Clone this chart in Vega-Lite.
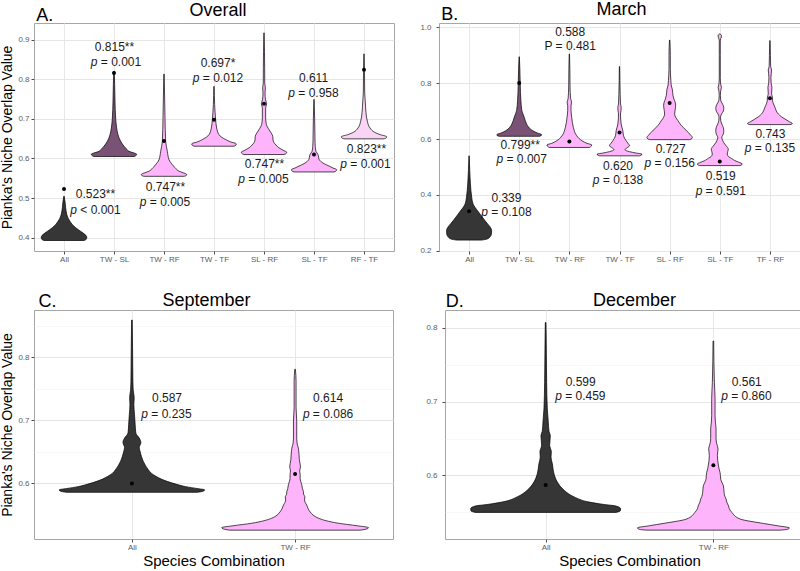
{
  "$schema": "https://vega.github.io/schema/vega-lite/v6.json",
  "padding": {"left": 0, "top": 0, "right": 0, "bottom": 0},
  "autosize": {"type": "pad"},
  "config": {
    "font": "Liberation Sans",
    "view": {"stroke": "#a6a6a6", "strokeWidth": 1},
    "axis": {"labelFont": "Liberation Sans", "titleFont": "Liberation Sans", "labelFontSize": 8, "labelColor": "#5c5c5c", "tickColor": "#4d4d4d", "tickSize": 3, "domain": false, "gridColor": "#e8e8e8", "titleFontWeight": "normal", "titleColor": "#000000", "labelFlush": false, "labelOverlap": false},
    "title": {"font": "Liberation Sans", "fontSize": 18, "fontWeight": "normal", "color": "#000000", "anchor": "middle", "frame": "group"},
    "text": {"font": "Liberation Sans"}
  },
  "datasets": {
    "vA": [
      {"cat":"All","v":0.393,"w":0.40},{"cat":"All","v":0.396,"w":0.445},{"cat":"All","v":0.400,"w":0.455},{"cat":"All","v":0.404,"w":0.45},{"cat":"All","v":0.408,"w":0.42},{"cat":"All","v":0.413,"w":0.37},{"cat":"All","v":0.419,"w":0.30},{"cat":"All","v":0.425,"w":0.235},{"cat":"All","v":0.433,"w":0.17},{"cat":"All","v":0.442,"w":0.115},{"cat":"All","v":0.450,"w":0.08},{"cat":"All","v":0.459,"w":0.055},{"cat":"All","v":0.476,"w":0.033},{"cat":"All","v":0.492,"w":0.02},{"cat":"All","v":0.505,"w":0.003},
      {"cat":"TW - SL","v":0.605,"w":0.40},{"cat":"TW - SL","v":0.608,"w":0.445},{"cat":"TW - SL","v":0.611,"w":0.453},{"cat":"TW - SL","v":0.614,"w":0.40},{"cat":"TW - SL","v":0.618,"w":0.30},{"cat":"TW - SL","v":0.624,"w":0.25},{"cat":"TW - SL","v":0.631,"w":0.20},{"cat":"TW - SL","v":0.644,"w":0.13},{"cat":"TW - SL","v":0.660,"w":0.08},{"cat":"TW - SL","v":0.677,"w":0.053},{"cat":"TW - SL","v":0.702,"w":0.033},{"cat":"TW - SL","v":0.745,"w":0.02},{"cat":"TW - SL","v":0.787,"w":0.013},{"cat":"TW - SL","v":0.820,"w":0.004},
      {"cat":"TW - RF","v":0.555,"w":0.40},{"cat":"TW - RF","v":0.557,"w":0.445},{"cat":"TW - RF","v":0.560,"w":0.453},{"cat":"TW - RF","v":0.564,"w":0.38},{"cat":"TW - RF","v":0.568,"w":0.30},{"cat":"TW - RF","v":0.574,"w":0.24},{"cat":"TW - RF","v":0.581,"w":0.19},{"cat":"TW - RF","v":0.597,"w":0.10},{"cat":"TW - RF","v":0.618,"w":0.067},{"cat":"TW - RF","v":0.644,"w":0.033},{"cat":"TW - RF","v":0.703,"w":0.02},{"cat":"TW - RF","v":0.750,"w":0.013},{"cat":"TW - RF","v":0.813,"w":0.004},
      {"cat":"TW - TF","v":0.631,"w":0.40},{"cat":"TW - TF","v":0.634,"w":0.44},{"cat":"TW - TF","v":0.637,"w":0.445},{"cat":"TW - TF","v":0.642,"w":0.33},{"cat":"TW - TF","v":0.648,"w":0.23},{"cat":"TW - TF","v":0.654,"w":0.15},{"cat":"TW - TF","v":0.660,"w":0.10},{"cat":"TW - TF","v":0.677,"w":0.053},{"cat":"TW - TF","v":0.698,"w":0.033},{"cat":"TW - TF","v":0.736,"w":0.013},{"cat":"TW - TF","v":0.782,"w":0.004},
      {"cat":"SL - RF","v":0.610,"w":0.40},{"cat":"SL - RF","v":0.613,"w":0.445},{"cat":"SL - RF","v":0.616,"w":0.453},{"cat":"SL - RF","v":0.621,"w":0.38},{"cat":"SL - RF","v":0.627,"w":0.30},{"cat":"SL - RF","v":0.634,"w":0.24},{"cat":"SL - RF","v":0.640,"w":0.20},{"cat":"SL - RF","v":0.647,"w":0.18},{"cat":"SL - RF","v":0.656,"w":0.175},{"cat":"SL - RF","v":0.665,"w":0.14},{"cat":"SL - RF","v":0.673,"w":0.10},{"cat":"SL - RF","v":0.686,"w":0.047},{"cat":"SL - RF","v":0.703,"w":0.033},{"cat":"SL - RF","v":0.728,"w":0.033},{"cat":"SL - RF","v":0.738,"w":0.053},{"cat":"SL - RF","v":0.748,"w":0.03},{"cat":"SL - RF","v":0.765,"w":0.02},{"cat":"SL - RF","v":0.778,"w":0.027},{"cat":"SL - RF","v":0.790,"w":0.015},{"cat":"SL - RF","v":0.829,"w":0.013},{"cat":"SL - RF","v":0.870,"w":0.01},{"cat":"SL - RF","v":0.917,"w":0.003},
      {"cat":"SL - TF","v":0.566,"w":0.40},{"cat":"SL - TF","v":0.569,"w":0.445},{"cat":"SL - TF","v":0.572,"w":0.453},{"cat":"SL - TF","v":0.576,"w":0.38},{"cat":"SL - TF","v":0.581,"w":0.30},{"cat":"SL - TF","v":0.587,"w":0.20},{"cat":"SL - TF","v":0.593,"w":0.133},{"cat":"SL - TF","v":0.598,"w":0.10},{"cat":"SL - TF","v":0.603,"w":0.093},{"cat":"SL - TF","v":0.610,"w":0.08},{"cat":"SL - TF","v":0.618,"w":0.04},{"cat":"SL - TF","v":0.630,"w":0.025},{"cat":"SL - TF","v":0.644,"w":0.02},{"cat":"SL - TF","v":0.700,"w":0.013},{"cat":"SL - TF","v":0.749,"w":0.003},
      {"cat":"RF - TF","v":0.6496,"w":0.40},{"cat":"RF - TF","v":0.652,"w":0.445},{"cat":"RF - TF","v":0.655,"w":0.453},{"cat":"RF - TF","v":0.660,"w":0.33},{"cat":"RF - TF","v":0.665,"w":0.23},{"cat":"RF - TF","v":0.677,"w":0.12},{"cat":"RF - TF","v":0.694,"w":0.067},{"cat":"RF - TF","v":0.715,"w":0.04},{"cat":"RF - TF","v":0.740,"w":0.027},{"cat":"RF - TF","v":0.770,"w":0.013},{"cat":"RF - TF","v":0.820,"w":0.01},{"cat":"RF - TF","v":0.864,"w":0.003}
    ],
    "dA": [
      {"cat":"All","v":0.523},{"cat":"TW - SL","v":0.816},{"cat":"TW - RF","v":0.644},{"cat":"TW - TF","v":0.698},{"cat":"SL - RF","v":0.738},{"cat":"SL - TF","v":0.610},{"cat":"RF - TF","v":0.824}
    ],
    "tA": [
      {"x":1.63,"y":0.511,"t":"0.523**","k":"v"},{"x":1.63,"y":0.471,"t":"< 0.001","k":"p"},
      {"x":2.01,"y":0.881,"t":"0.815**","k":"v"},{"x":2.04,"y":0.844,"t":"= 0.001","k":"p"},
      {"x":3.03,"y":0.528,"t":"0.747**","k":"v"},{"x":3.02,"y":0.491,"t":"= 0.005","k":"p"},
      {"x":4.08,"y":0.841,"t":"0.697*","k":"v"},{"x":4.08,"y":0.803,"t":"= 0.012","k":"p"},
      {"x":5.01,"y":0.587,"t":"0.747**","k":"v"},{"x":4.99,"y":0.549,"t":"= 0.005","k":"p"},
      {"x":5.99,"y":0.802,"t":"0.611","k":"v"},{"x":5.99,"y":0.766,"t":"= 0.958","k":"p"},
      {"x":7.05,"y":0.624,"t":"0.823**","k":"v"},{"x":7.03,"y":0.587,"t":"= 0.001","k":"p"},
      {"x":0.446,"y":0.947,"t":"A.","k":"L"}
    ],
    "vB": [
      {"cat":"All","v":0.238,"w":0.25},{"cat":"All","v":0.242,"w":0.36},{"cat":"All","v":0.250,"w":0.42},{"cat":"All","v":0.260,"w":0.445},{"cat":"All","v":0.272,"w":0.45},{"cat":"All","v":0.285,"w":0.42},{"cat":"All","v":0.296,"w":0.37},{"cat":"All","v":0.307,"w":0.32},{"cat":"All","v":0.319,"w":0.27},{"cat":"All","v":0.331,"w":0.22},{"cat":"All","v":0.343,"w":0.17},{"cat":"All","v":0.355,"w":0.12},{"cat":"All","v":0.367,"w":0.08},{"cat":"All","v":0.391,"w":0.053},{"cat":"All","v":0.439,"w":0.027},{"cat":"All","v":0.487,"w":0.013},{"cat":"All","v":0.540,"w":0.003},
      {"cat":"TW - SL","v":0.610,"w":0.40},{"cat":"TW - SL","v":0.613,"w":0.44},{"cat":"TW - SL","v":0.616,"w":0.447},{"cat":"TW - SL","v":0.622,"w":0.36},{"cat":"TW - SL","v":0.630,"w":0.27},{"cat":"TW - SL","v":0.642,"w":0.19},{"cat":"TW - SL","v":0.654,"w":0.147},{"cat":"TW - SL","v":0.678,"w":0.10},{"cat":"TW - SL","v":0.702,"w":0.053},{"cat":"TW - SL","v":0.738,"w":0.033},{"cat":"TW - SL","v":0.797,"w":0.02},{"cat":"TW - SL","v":0.850,"w":0.013},{"cat":"TW - SL","v":0.895,"w":0.003},
      {"cat":"TW - RF","v":0.570,"w":0.40},{"cat":"TW - RF","v":0.575,"w":0.44},{"cat":"TW - RF","v":0.579,"w":0.447},{"cat":"TW - RF","v":0.585,"w":0.35},{"cat":"TW - RF","v":0.592,"w":0.27},{"cat":"TW - RF","v":0.612,"w":0.147},{"cat":"TW - RF","v":0.642,"w":0.08},{"cat":"TW - RF","v":0.678,"w":0.047},{"cat":"TW - RF","v":0.702,"w":0.033},{"cat":"TW - RF","v":0.720,"w":0.033},{"cat":"TW - RF","v":0.732,"w":0.045},{"cat":"TW - RF","v":0.745,"w":0.025},{"cat":"TW - RF","v":0.790,"w":0.013},{"cat":"TW - RF","v":0.850,"w":0.01},{"cat":"TW - RF","v":0.905,"w":0.003},
      {"cat":"TW - TF","v":0.540,"w":0.40},{"cat":"TW - TF","v":0.543,"w":0.44},{"cat":"TW - TF","v":0.546,"w":0.447},{"cat":"TW - TF","v":0.550,"w":0.33},{"cat":"TW - TF","v":0.555,"w":0.20},{"cat":"TW - TF","v":0.562,"w":0.11},{"cat":"TW - TF","v":0.569,"w":0.15},{"cat":"TW - TF","v":0.576,"w":0.20},{"cat":"TW - TF","v":0.585,"w":0.17},{"cat":"TW - TF","v":0.594,"w":0.133},{"cat":"TW - TF","v":0.612,"w":0.08},{"cat":"TW - TF","v":0.630,"w":0.067},{"cat":"TW - TF","v":0.654,"w":0.033},{"cat":"TW - TF","v":0.690,"w":0.02},{"cat":"TW - TF","v":0.702,"w":0.03},{"cat":"TW - TF","v":0.714,"w":0.033},{"cat":"TW - TF","v":0.726,"w":0.02},{"cat":"TW - TF","v":0.760,"w":0.013},{"cat":"TW - TF","v":0.860,"w":0.003},
      {"cat":"SL - RF","v":0.598,"w":0.40},{"cat":"SL - RF","v":0.602,"w":0.445},{"cat":"SL - RF","v":0.606,"w":0.453},{"cat":"SL - RF","v":0.614,"w":0.42},{"cat":"SL - RF","v":0.624,"w":0.37},{"cat":"SL - RF","v":0.642,"w":0.27},{"cat":"SL - RF","v":0.654,"w":0.21},{"cat":"SL - RF","v":0.666,"w":0.167},{"cat":"SL - RF","v":0.678,"w":0.12},{"cat":"SL - RF","v":0.690,"w":0.10},{"cat":"SL - RF","v":0.705,"w":0.11},{"cat":"SL - RF","v":0.720,"w":0.12},{"cat":"SL - RF","v":0.732,"w":0.11},{"cat":"SL - RF","v":0.744,"w":0.085},{"cat":"SL - RF","v":0.756,"w":0.067},{"cat":"SL - RF","v":0.768,"w":0.06},{"cat":"SL - RF","v":0.779,"w":0.053},{"cat":"SL - RF","v":0.794,"w":0.03},{"cat":"SL - RF","v":0.809,"w":0.025},{"cat":"SL - RF","v":0.850,"w":0.013},{"cat":"SL - RF","v":0.900,"w":0.013},{"cat":"SL - RF","v":0.955,"w":0.003},
      {"cat":"SL - TF","v":0.505,"w":0.40},{"cat":"SL - TF","v":0.508,"w":0.44},{"cat":"SL - TF","v":0.511,"w":0.447},{"cat":"SL - TF","v":0.517,"w":0.38},{"cat":"SL - TF","v":0.523,"w":0.30},{"cat":"SL - TF","v":0.530,"w":0.24},{"cat":"SL - TF","v":0.538,"w":0.17},{"cat":"SL - TF","v":0.546,"w":0.15},{"cat":"SL - TF","v":0.556,"w":0.16},{"cat":"SL - TF","v":0.564,"w":0.17},{"cat":"SL - TF","v":0.573,"w":0.14},{"cat":"SL - TF","v":0.582,"w":0.10},{"cat":"SL - TF","v":0.594,"w":0.06},{"cat":"SL - TF","v":0.606,"w":0.04},{"cat":"SL - TF","v":0.618,"w":0.07},{"cat":"SL - TF","v":0.630,"w":0.08},{"cat":"SL - TF","v":0.642,"w":0.07},{"cat":"SL - TF","v":0.654,"w":0.04},{"cat":"SL - TF","v":0.666,"w":0.02},{"cat":"SL - TF","v":0.678,"w":0.015},{"cat":"SL - TF","v":0.690,"w":0.035},{"cat":"SL - TF","v":0.700,"w":0.07},{"cat":"SL - TF","v":0.712,"w":0.08},{"cat":"SL - TF","v":0.724,"w":0.06},{"cat":"SL - TF","v":0.738,"w":0.02},{"cat":"SL - TF","v":0.756,"w":0.012},{"cat":"SL - TF","v":0.775,"w":0.02},{"cat":"SL - TF","v":0.785,"w":0.033},{"cat":"SL - TF","v":0.795,"w":0.02},{"cat":"SL - TF","v":0.820,"w":0.01},{"cat":"SL - TF","v":0.900,"w":0.01},{"cat":"SL - TF","v":0.955,"w":0.01},{"cat":"SL - TF","v":0.965,"w":0.03},{"cat":"SL - TF","v":0.972,"w":0.033},{"cat":"SL - TF","v":0.977,"w":0.003},
      {"cat":"TF - RF","v":0.652,"w":0.40},{"cat":"TF - RF","v":0.654,"w":0.44},{"cat":"TF - RF","v":0.656,"w":0.447},{"cat":"TF - RF","v":0.662,"w":0.39},{"cat":"TF - RF","v":0.672,"w":0.30},{"cat":"TF - RF","v":0.680,"w":0.23},{"cat":"TF - RF","v":0.690,"w":0.167},{"cat":"TF - RF","v":0.714,"w":0.10},{"cat":"TF - RF","v":0.738,"w":0.053},{"cat":"TF - RF","v":0.750,"w":0.05},{"cat":"TF - RF","v":0.762,"w":0.033},{"cat":"TF - RF","v":0.785,"w":0.04},{"cat":"TF - RF","v":0.800,"w":0.025},{"cat":"TF - RF","v":0.821,"w":0.02},{"cat":"TF - RF","v":0.848,"w":0.033},{"cat":"TF - RF","v":0.860,"w":0.015},{"cat":"TF - RF","v":0.900,"w":0.01},{"cat":"TF - RF","v":0.953,"w":0.003}
    ],
    "dB": [
      {"cat":"All","v":0.341},{"cat":"TW - SL","v":0.801},{"cat":"TW - RF","v":0.591},{"cat":"TW - TF","v":0.624},{"cat":"SL - RF","v":0.729},{"cat":"SL - TF","v":0.520},{"cat":"TF - RF","v":0.746}
    ],
    "tB": [
      {"x":1.745,"y":0.389,"t":"0.339","k":"v"},{"x":1.745,"y":0.337,"t":"= 0.108","k":"p"},
      {"x":2.02,"y":0.578,"t":"0.799**","k":"v"},{"x":2.05,"y":0.528,"t":"= 0.007","k":"p"},
      {"x":3.016,"y":0.982,"t":"0.588","k":"v"},{"x":3.016,"y":0.932,"t":"P = 0.481","k":"v"},
      {"x":3.97,"y":0.505,"t":"0.620","k":"v"},{"x":3.97,"y":0.454,"t":"= 0.138","k":"p"},
      {"x":5.02,"y":0.564,"t":"0.727","k":"v"},{"x":5.0,"y":0.514,"t":"= 0.156","k":"p"},
      {"x":6.02,"y":0.466,"t":"0.519","k":"v"},{"x":6.02,"y":0.415,"t":"= 0.591","k":"p"},
      {"x":7.01,"y":0.618,"t":"0.743","k":"v"},{"x":7.0,"y":0.568,"t":"= 0.135","k":"p"},
      {"x":0.446,"y":1.025,"t":"B.","k":"L"}
    ],
    "vC": [
      {"cat":"All","v":0.586,"w":0.40},{"cat":"All","v":0.588,"w":0.44},{"cat":"All","v":0.590,"w":0.445},{"cat":"All","v":0.592,"w":0.40},{"cat":"All","v":0.595,"w":0.33},{"cat":"All","v":0.599,"w":0.27},{"cat":"All","v":0.603,"w":0.22},{"cat":"All","v":0.607,"w":0.18},{"cat":"All","v":0.611,"w":0.15},{"cat":"All","v":0.616,"w":0.12},{"cat":"All","v":0.622,"w":0.10},{"cat":"All","v":0.635,"w":0.07},{"cat":"All","v":0.651,"w":0.05},{"cat":"All","v":0.657,"w":0.045},{"cat":"All","v":0.665,"w":0.055},{"cat":"All","v":0.672,"w":0.045},{"cat":"All","v":0.680,"w":0.024},{"cat":"All","v":0.693,"w":0.02},{"cat":"All","v":0.709,"w":0.016},{"cat":"All","v":0.725,"w":0.012},{"cat":"All","v":0.736,"w":0.014},{"cat":"All","v":0.748,"w":0.008},{"cat":"All","v":0.762,"w":0.006},{"cat":"All","v":0.815,"w":0.004},{"cat":"All","v":0.859,"w":0.002},
      {"cat":"TW - RF","v":0.526,"w":0.40},{"cat":"TW - RF","v":0.528,"w":0.44},{"cat":"TW - RF","v":0.530,"w":0.45},{"cat":"TW - RF","v":0.533,"w":0.38},{"cat":"TW - RF","v":0.537,"w":0.265},{"cat":"TW - RF","v":0.541,"w":0.19},{"cat":"TW - RF","v":0.545,"w":0.143},{"cat":"TW - RF","v":0.550,"w":0.11},{"cat":"TW - RF","v":0.555,"w":0.092},{"cat":"TW - RF","v":0.560,"w":0.08},{"cat":"TW - RF","v":0.566,"w":0.071},{"cat":"TW - RF","v":0.570,"w":0.062},{"cat":"TW - RF","v":0.574,"w":0.058},{"cat":"TW - RF","v":0.579,"w":0.06},{"cat":"TW - RF","v":0.583,"w":0.052},{"cat":"TW - RF","v":0.587,"w":0.051},{"cat":"TW - RF","v":0.592,"w":0.045},{"cat":"TW - RF","v":0.598,"w":0.041},{"cat":"TW - RF","v":0.603,"w":0.035},{"cat":"TW - RF","v":0.608,"w":0.031},{"cat":"TW - RF","v":0.614,"w":0.031},{"cat":"TW - RF","v":0.620,"w":0.028},{"cat":"TW - RF","v":0.626,"w":0.033},{"cat":"TW - RF","v":0.632,"w":0.03},{"cat":"TW - RF","v":0.638,"w":0.026},{"cat":"TW - RF","v":0.646,"w":0.024},{"cat":"TW - RF","v":0.652,"w":0.022},{"cat":"TW - RF","v":0.656,"w":0.02},{"cat":"TW - RF","v":0.664,"w":0.012},{"cat":"TW - RF","v":0.672,"w":0.01},{"cat":"TW - RF","v":0.685,"w":0.01},{"cat":"TW - RF","v":0.699,"w":0.01},{"cat":"TW - RF","v":0.710,"w":0.008},{"cat":"TW - RF","v":0.720,"w":0.006},{"cat":"TW - RF","v":0.762,"w":0.006},{"cat":"TW - RF","v":0.781,"w":0.002}
    ],
    "dC": [{"cat":"All","v":0.600},{"cat":"TW - RF","v":0.615}],
    "tC": [
      {"x":1.215,"y":0.735,"t":"0.587","k":"v"},{"x":1.212,"y":0.710,"t":"= 0.235","k":"p"},
      {"x":2.202,"y":0.735,"t":"0.614","k":"v"},{"x":2.202,"y":0.710,"t":"= 0.086","k":"p"},
      {"x":0.427,"y":0.880,"t":"C.","k":"L"}
    ],
    "vD": [
      {"cat":"All","v":0.550,"w":0.42},{"cat":"All","v":0.552,"w":0.445},{"cat":"All","v":0.555,"w":0.447},{"cat":"All","v":0.5586,"w":0.42},{"cat":"All","v":0.561,"w":0.34},{"cat":"All","v":0.564,"w":0.26},{"cat":"All","v":0.571,"w":0.17},{"cat":"All","v":0.580,"w":0.11},{"cat":"All","v":0.591,"w":0.07},{"cat":"All","v":0.602,"w":0.05},{"cat":"All","v":0.616,"w":0.04},{"cat":"All","v":0.625,"w":0.032},{"cat":"All","v":0.632,"w":0.034},{"cat":"All","v":0.641,"w":0.024},{"cat":"All","v":0.654,"w":0.028},{"cat":"All","v":0.660,"w":0.02},{"cat":"All","v":0.672,"w":0.016},{"cat":"All","v":0.690,"w":0.01},{"cat":"All","v":0.726,"w":0.006},{"cat":"All","v":0.771,"w":0.004},{"cat":"All","v":0.807,"w":0.002},
      {"cat":"TW - RF","v":0.526,"w":0.40},{"cat":"TW - RF","v":0.527,"w":0.44},{"cat":"TW - RF","v":0.529,"w":0.453},{"cat":"TW - RF","v":0.532,"w":0.38},{"cat":"TW - RF","v":0.535,"w":0.30},{"cat":"TW - RF","v":0.541,"w":0.16},{"cat":"TW - RF","v":0.550,"w":0.11},{"cat":"TW - RF","v":0.555,"w":0.095},{"cat":"TW - RF","v":0.559,"w":0.09},{"cat":"TW - RF","v":0.564,"w":0.08},{"cat":"TW - RF","v":0.568,"w":0.076},{"cat":"TW - RF","v":0.572,"w":0.068},{"cat":"TW - RF","v":0.577,"w":0.064},{"cat":"TW - RF","v":0.582,"w":0.062},{"cat":"TW - RF","v":0.586,"w":0.06},{"cat":"TW - RF","v":0.591,"w":0.05},{"cat":"TW - RF","v":0.595,"w":0.044},{"cat":"TW - RF","v":0.600,"w":0.042},{"cat":"TW - RF","v":0.604,"w":0.04},{"cat":"TW - RF","v":0.609,"w":0.034},{"cat":"TW - RF","v":0.614,"w":0.03},{"cat":"TW - RF","v":0.620,"w":0.026},{"cat":"TW - RF","v":0.627,"w":0.024},{"cat":"TW - RF","v":0.632,"w":0.026},{"cat":"TW - RF","v":0.636,"w":0.028},{"cat":"TW - RF","v":0.643,"w":0.02},{"cat":"TW - RF","v":0.650,"w":0.016},{"cat":"TW - RF","v":0.657,"w":0.016},{"cat":"TW - RF","v":0.663,"w":0.016},{"cat":"TW - RF","v":0.672,"w":0.012},{"cat":"TW - RF","v":0.681,"w":0.01},{"cat":"TW - RF","v":0.704,"w":0.01},{"cat":"TW - RF","v":0.726,"w":0.006},{"cat":"TW - RF","v":0.782,"w":0.002}
    ],
    "dD": [{"cat":"All","v":0.587},{"cat":"TW - RF","v":0.614}],
    "tD": [
      {"x":1.209,"y":0.727,"t":"0.599","k":"v"},{"x":1.207,"y":0.707,"t":"= 0.459","k":"p"},
      {"x":2.199,"y":0.727,"t":"0.561","k":"v"},{"x":2.197,"y":0.707,"t":"= 0.860","k":"p"},
      {"x":0.404,"y":0.828,"t":"D.","k":"L"}
    ]
  },
  "spacing": 27,
  "resolve": {"scale": {"fill": "independent"}},
  "vconcat": [
    {
      "spacing": 24,
      "resolve": {"scale": {"fill": "independent"}},
      "hconcat": [
        {
          "width": 360, "height": 228,
          "title": {"text": "Overall", "offset": -12.5, "dx": 4},
          "layer": [
            {
              "data": {"name": "vA"},
              "transform": [
                {"calculate": "indexof(['All','TW - SL','TW - RF','TW - TF','SL - RF','SL - TF','RF - TF'], datum.cat) + 1", "as": "idx"},
                {"calculate": "datum.idx - datum.w", "as": "lo"},
                {"calculate": "datum.idx + datum.w", "as": "hi"}
              ],
              "mark": {"type": "area", "orient": "horizontal", "interpolate": "monotone", "stroke": "#000000", "strokeWidth": 0.7, "fillOpacity": 1},
              "encoding": {
                "y": {"field": "v", "type": "quantitative", "title": "Pianka's Niche Overlap Value",
                  "scale": {"domain": [0.3665, 0.942], "nice": false, "zero": false},
                  "axis": {"values": [0.4,0.45,0.5,0.55,0.6,0.65,0.7,0.75,0.8,0.85,0.9], "labelOverlap": false,
                    "labelExpr": "format(datum.value,'.1f')",
                    "labelOpacity": {"condition": {"test": "abs(datum.value*10 - round(datum.value*10)) < 0.01", "value": 1}, "value": 0},
                    "tickOpacity": {"condition": {"test": "abs(datum.value*10 - round(datum.value*10)) < 0.01", "value": 1}, "value": 0},
                    "gridColor": {"condition": {"test": "abs(datum.value*10 - round(datum.value*10)) < 0.01", "value": "#e6e6e6"}, "value": "#f1f1f1"},
                    "gridWidth": {"condition": {"test": "abs(datum.value*10 - round(datum.value*10)) < 0.01", "value": 1}, "value": 0.6},
                    "labelPadding": 2, "titleFontSize": 14, "titlePadding": 3}},
                "x": {"field": "lo", "type": "quantitative", "title": null,
                  "scale": {"domain": [0.4, 7.6], "nice": false, "zero": false},
                  "axis": {"values": [1,2,3,4,5,6,7], "labelExpr": "['','All','TW - SL','TW - RF','TW - TF','SL - RF','SL - TF','RF - TF'][datum.value]", "grid": true, "labelPadding": 1.5}},
                "x2": {"field": "hi"},
                "fill": {"field": "cat", "type": "nominal", "legend": null,
                  "scale": {"domain": ["All","TW - SL","TW - RF","TW - TF","SL - RF","SL - TF","RF - TF"], "range": ["#363636","#7a5275","#fdb4fb","#fdb4fb","#fdb4fb","#fdb4fb","#f9d4f4"]}}
              }
            },
            {
              "data": {"name": "dA"},
              "transform": [{"calculate": "indexof(['All','TW - SL','TW - RF','TW - TF','SL - RF','SL - TF','RF - TF'], datum.cat) + 1", "as": "idx"}],
              "mark": {"type": "circle", "size": 16, "color": "#000000", "opacity": 1},
              "encoding": {"x": {"field": "idx", "type": "quantitative", "title": null}, "y": {"field": "v", "type": "quantitative", "title": "Pianka's Niche Overlap Value"}}
            },
            {
              "data": {"name": "tA"},
              "transform": [{"filter": "datum.k == 'v'"}],
              "mark": {"type": "text", "fontSize": 12, "color": "#1a1a1a", "align": "center", "baseline": "middle"},
              "encoding": {"x": {"field": "x", "type": "quantitative", "title": null}, "y": {"field": "y", "type": "quantitative", "title": "Pianka's Niche Overlap Value"}, "text": {"field": "t"}}
            },
            {
              "data": {"name": "tA"},
              "transform": [{"filter": "datum.k == 'p'"}],
              "mark": {"type": "text", "fontSize": 12, "color": "#1a1a1a", "align": "left", "baseline": "middle", "dx": -15.2},
              "encoding": {"x": {"field": "x", "type": "quantitative", "title": null}, "y": {"field": "y", "type": "quantitative", "title": "Pianka's Niche Overlap Value"}, "text": {"field": "t"}}
            },
            {
              "data": {"name": "tA"},
              "transform": [{"filter": "datum.k == 'p'"}],
              "mark": {"type": "text", "fontSize": 12, "fontStyle": "italic", "color": "#1a1a1a", "align": "center", "baseline": "middle", "dx": -21.8},
              "encoding": {"x": {"field": "x", "type": "quantitative", "title": null}, "y": {"field": "y", "type": "quantitative", "title": "Pianka's Niche Overlap Value"}, "text": {"value": "p"}}
            },
            {
              "data": {"name": "tA"},
              "transform": [{"filter": "datum.k == 'L'"}],
              "mark": {"type": "text", "fontSize": 18, "color": "#000000", "align": "left", "baseline": "alphabetic"},
              "encoding": {"x": {"field": "x", "type": "quantitative", "title": null}, "y": {"field": "y", "type": "quantitative", "title": "Pianka's Niche Overlap Value"}, "text": {"field": "t"}}
            }
          ]
        },
        {
          "width": 361, "height": 228,
          "title": {"text": "March", "offset": -12.5, "dx": 2},
          "layer": [
            {
              "data": {"name": "vB"},
              "transform": [
                {"calculate": "indexof(['All','TW - SL','TW - RF','TW - TF','SL - RF','SL - TF','TF - RF'], datum.cat) + 1", "as": "idx"},
                {"calculate": "datum.idx - datum.w", "as": "lo"},
                {"calculate": "datum.idx + datum.w", "as": "hi"}
              ],
              "mark": {"type": "area", "orient": "horizontal", "interpolate": "monotone", "stroke": "#000000", "strokeWidth": 0.7, "fillOpacity": 1},
              "encoding": {
                "y": {"field": "v", "type": "quantitative", "title": null,
                  "scale": {"domain": [0.199, 1.016], "nice": false, "zero": false},
                  "axis": {"values": [0.2,0.3,0.4,0.5,0.6,0.7,0.8,0.9,1.0], "labelOverlap": false,
                    "labelExpr": "format(datum.value,'.1f')",
                    "labelOpacity": {"condition": {"test": "abs(datum.value*5 - round(datum.value*5)) < 0.01", "value": 1}, "value": 0},
                    "tickOpacity": {"condition": {"test": "abs(datum.value*5 - round(datum.value*5)) < 0.01", "value": 1}, "value": 0},
                    "gridColor": {"condition": {"test": "abs(datum.value*5 - round(datum.value*5)) < 0.01", "value": "#e6e6e6"}, "value": "#f1f1f1"},
                    "gridWidth": {"condition": {"test": "abs(datum.value*5 - round(datum.value*5)) < 0.01", "value": 1}, "value": 0.6},
                    "labelPadding": 5}},
                "x": {"field": "lo", "type": "quantitative", "title": null,
                  "scale": {"domain": [0.4, 7.6], "nice": false, "zero": false},
                  "axis": {"values": [1,2,3,4,5,6,7], "labelExpr": "['','All','TW - SL','TW - RF','TW - TF','SL - RF','SL - TF','TF - RF'][datum.value]", "grid": true, "labelPadding": 1.5}},
                "x2": {"field": "hi"},
                "fill": {"field": "cat", "type": "nominal", "legend": null,
                  "scale": {"domain": ["All","TW - SL","TW - RF","TW - TF","SL - RF","SL - TF","TF - RF"], "range": ["#363636","#7a5275","#fdb4fb","#fdb4fb","#fdb4fb","#fdb4fb","#fdb4fb"]}}
              }
            },
            {
              "data": {"name": "dB"},
              "transform": [{"calculate": "indexof(['All','TW - SL','TW - RF','TW - TF','SL - RF','SL - TF','TF - RF'], datum.cat) + 1", "as": "idx"}],
              "mark": {"type": "circle", "size": 16, "color": "#000000", "opacity": 1},
              "encoding": {"x": {"field": "idx", "type": "quantitative", "title": null}, "y": {"field": "v", "type": "quantitative", "title": null}}
            },
            {
              "data": {"name": "tB"},
              "transform": [{"filter": "datum.k == 'v'"}],
              "mark": {"type": "text", "fontSize": 12, "color": "#1a1a1a", "align": "center", "baseline": "middle"},
              "encoding": {"x": {"field": "x", "type": "quantitative", "title": null}, "y": {"field": "y", "type": "quantitative", "title": null}, "text": {"field": "t"}}
            },
            {
              "data": {"name": "tB"},
              "transform": [{"filter": "datum.k == 'p'"}],
              "mark": {"type": "text", "fontSize": 12, "color": "#1a1a1a", "align": "left", "baseline": "middle", "dx": -15.2},
              "encoding": {"x": {"field": "x", "type": "quantitative", "title": null}, "y": {"field": "y", "type": "quantitative", "title": null}, "text": {"field": "t"}}
            },
            {
              "data": {"name": "tB"},
              "transform": [{"filter": "datum.k == 'p'"}],
              "mark": {"type": "text", "fontSize": 12, "fontStyle": "italic", "color": "#1a1a1a", "align": "center", "baseline": "middle", "dx": -21.8},
              "encoding": {"x": {"field": "x", "type": "quantitative", "title": null}, "y": {"field": "y", "type": "quantitative", "title": null}, "text": {"value": "p"}}
            },
            {
              "data": {"name": "tB"},
              "transform": [{"filter": "datum.k == 'L'"}],
              "mark": {"type": "text", "fontSize": 18, "color": "#000000", "align": "left", "baseline": "alphabetic"},
              "encoding": {"x": {"field": "x", "type": "quantitative", "title": null}, "y": {"field": "y", "type": "quantitative", "title": null}, "text": {"field": "t"}}
            }
          ]
        }
      ]
    },
    {
      "spacing": 31,
      "resolve": {"scale": {"fill": "independent"}},
      "hconcat": [
        {
          "width": 359, "height": 229,
          "title": {"text": "September", "offset": -17, "dx": -7},
          "layer": [
            {
              "data": {"name": "vC"},
              "transform": [
                {"calculate": "indexof(['All','TW - RF'], datum.cat) + 1", "as": "idx"},
                {"calculate": "datum.idx - datum.w", "as": "lo"},
                {"calculate": "datum.idx + datum.w", "as": "hi"}
              ],
              "mark": {"type": "area", "orient": "horizontal", "interpolate": "monotone", "stroke": "#000000", "strokeWidth": 0.7, "fillOpacity": 1},
              "encoding": {
                "y": {"field": "v", "type": "quantitative", "title": "Pianka's Niche Overlap Value",
                  "scale": {"domain": [0.512, 0.875], "nice": false, "zero": false},
                  "axis": {"values": [0.6,0.65,0.7,0.75,0.8,0.85], "labelOverlap": false,
                    "labelExpr": "format(datum.value,'.1f')",
                    "labelOpacity": {"condition": {"test": "abs(datum.value*10 - round(datum.value*10)) < 0.01", "value": 1}, "value": 0},
                    "tickOpacity": {"condition": {"test": "abs(datum.value*10 - round(datum.value*10)) < 0.01", "value": 1}, "value": 0},
                    "gridColor": {"condition": {"test": "abs(datum.value*10 - round(datum.value*10)) < 0.01", "value": "#e6e6e6"}, "value": "#f1f1f1"},
                    "gridWidth": {"condition": {"test": "abs(datum.value*10 - round(datum.value*10)) < 0.01", "value": 1}, "value": 0.6},
                    "labelPadding": 2, "titleFontSize": 14, "titlePadding": 3}},
                "x": {"field": "lo", "type": "quantitative", "title": "Species Combination",
                  "scale": {"domain": [0.4, 2.6], "nice": false, "zero": false},
                  "axis": {"values": [1,2], "labelExpr": "['','All','TW - RF'][datum.value]", "grid": true, "labelPadding": 1.5, "titleFontSize": 15, "titlePadding": 1.5}},
                "x2": {"field": "hi"},
                "fill": {"field": "cat", "type": "nominal", "legend": null,
                  "scale": {"domain": ["All","TW - RF"], "range": ["#363636","#fdb4fb"]}}
              }
            },
            {
              "data": {"name": "dC"},
              "transform": [{"calculate": "indexof(['All','TW - RF'], datum.cat) + 1", "as": "idx"}],
              "mark": {"type": "circle", "size": 16, "color": "#000000", "opacity": 1},
              "encoding": {"x": {"field": "idx", "type": "quantitative", "title": "Species Combination"}, "y": {"field": "v", "type": "quantitative", "title": "Pianka's Niche Overlap Value"}}
            },
            {
              "data": {"name": "tC"},
              "transform": [{"filter": "datum.k == 'v'"}],
              "mark": {"type": "text", "fontSize": 12, "color": "#1a1a1a", "align": "center", "baseline": "middle"},
              "encoding": {"x": {"field": "x", "type": "quantitative", "title": "Species Combination"}, "y": {"field": "y", "type": "quantitative", "title": "Pianka's Niche Overlap Value"}, "text": {"field": "t"}}
            },
            {
              "data": {"name": "tC"},
              "transform": [{"filter": "datum.k == 'p'"}],
              "mark": {"type": "text", "fontSize": 12, "color": "#1a1a1a", "align": "left", "baseline": "middle", "dx": -15.2},
              "encoding": {"x": {"field": "x", "type": "quantitative", "title": "Species Combination"}, "y": {"field": "y", "type": "quantitative", "title": "Pianka's Niche Overlap Value"}, "text": {"field": "t"}}
            },
            {
              "data": {"name": "tC"},
              "transform": [{"filter": "datum.k == 'p'"}],
              "mark": {"type": "text", "fontSize": 12, "fontStyle": "italic", "color": "#1a1a1a", "align": "center", "baseline": "middle", "dx": -21.8},
              "encoding": {"x": {"field": "x", "type": "quantitative", "title": "Species Combination"}, "y": {"field": "y", "type": "quantitative", "title": "Pianka's Niche Overlap Value"}, "text": {"value": "p"}}
            },
            {
              "data": {"name": "tC"},
              "transform": [{"filter": "datum.k == 'L'"}],
              "mark": {"type": "text", "fontSize": 18, "color": "#000000", "align": "left", "baseline": "alphabetic"},
              "encoding": {"x": {"field": "x", "type": "quantitative", "title": "Species Combination"}, "y": {"field": "y", "type": "quantitative", "title": "Pianka's Niche Overlap Value"}, "text": {"field": "t"}}
            }
          ]
        },
        {
          "width": 369, "height": 229,
          "title": {"text": "December", "offset": -17, "dx": 5},
          "layer": [
            {
              "data": {"name": "vD"},
              "transform": [
                {"calculate": "indexof(['All','TW - RF'], datum.cat) + 1", "as": "idx"},
                {"calculate": "datum.idx - datum.w", "as": "lo"},
                {"calculate": "datum.idx + datum.w", "as": "hi"}
              ],
              "mark": {"type": "area", "orient": "horizontal", "interpolate": "monotone", "stroke": "#000000", "strokeWidth": 0.7, "fillOpacity": 1},
              "encoding": {
                "y": {"field": "v", "type": "quantitative", "title": null,
                  "scale": {"domain": [0.514, 0.824], "nice": false, "zero": false},
                  "axis": {"values": [0.55,0.6,0.65,0.7,0.75,0.8], "labelOverlap": false,
                    "labelExpr": "format(datum.value,'.1f')",
                    "labelOpacity": {"condition": {"test": "abs(datum.value*10 - round(datum.value*10)) < 0.01", "value": 1}, "value": 0},
                    "tickOpacity": {"condition": {"test": "abs(datum.value*10 - round(datum.value*10)) < 0.01", "value": 1}, "value": 0},
                    "gridColor": {"condition": {"test": "abs(datum.value*10 - round(datum.value*10)) < 0.01", "value": "#e6e6e6"}, "value": "#f1f1f1"},
                    "gridWidth": {"condition": {"test": "abs(datum.value*10 - round(datum.value*10)) < 0.01", "value": 1}, "value": 0.6},
                    "labelPadding": 5}},
                "x": {"field": "lo", "type": "quantitative", "title": "Species Combination",
                  "scale": {"domain": [0.4, 2.6], "nice": false, "zero": false},
                  "axis": {"values": [1,2], "labelExpr": "['','All','TW - RF'][datum.value]", "grid": true, "labelPadding": 1.5, "titleFontSize": 15, "titlePadding": 1.5}},
                "x2": {"field": "hi"},
                "fill": {"field": "cat", "type": "nominal", "legend": null,
                  "scale": {"domain": ["All","TW - RF"], "range": ["#363636","#fdb4fb"]}}
              }
            },
            {
              "data": {"name": "dD"},
              "transform": [{"calculate": "indexof(['All','TW - RF'], datum.cat) + 1", "as": "idx"}],
              "mark": {"type": "circle", "size": 16, "color": "#000000", "opacity": 1},
              "encoding": {"x": {"field": "idx", "type": "quantitative", "title": "Species Combination"}, "y": {"field": "v", "type": "quantitative", "title": null}}
            },
            {
              "data": {"name": "tD"},
              "transform": [{"filter": "datum.k == 'v'"}],
              "mark": {"type": "text", "fontSize": 12, "color": "#1a1a1a", "align": "center", "baseline": "middle"},
              "encoding": {"x": {"field": "x", "type": "quantitative", "title": "Species Combination"}, "y": {"field": "y", "type": "quantitative", "title": null}, "text": {"field": "t"}}
            },
            {
              "data": {"name": "tD"},
              "transform": [{"filter": "datum.k == 'p'"}],
              "mark": {"type": "text", "fontSize": 12, "color": "#1a1a1a", "align": "left", "baseline": "middle", "dx": -15.2},
              "encoding": {"x": {"field": "x", "type": "quantitative", "title": "Species Combination"}, "y": {"field": "y", "type": "quantitative", "title": null}, "text": {"field": "t"}}
            },
            {
              "data": {"name": "tD"},
              "transform": [{"filter": "datum.k == 'p'"}],
              "mark": {"type": "text", "fontSize": 12, "fontStyle": "italic", "color": "#1a1a1a", "align": "center", "baseline": "middle", "dx": -21.8},
              "encoding": {"x": {"field": "x", "type": "quantitative", "title": "Species Combination"}, "y": {"field": "y", "type": "quantitative", "title": null}, "text": {"value": "p"}}
            },
            {
              "data": {"name": "tD"},
              "transform": [{"filter": "datum.k == 'L'"}],
              "mark": {"type": "text", "fontSize": 18, "color": "#000000", "align": "left", "baseline": "alphabetic"},
              "encoding": {"x": {"field": "x", "type": "quantitative", "title": "Species Combination"}, "y": {"field": "y", "type": "quantitative", "title": null}, "text": {"field": "t"}}
            }
          ]
        }
      ]
    }
  ]
}
